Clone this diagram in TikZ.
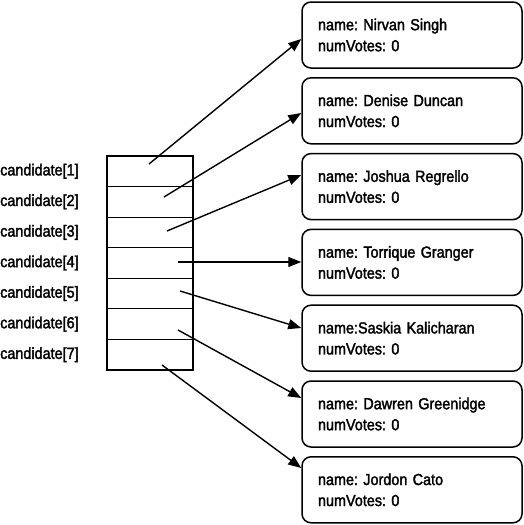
\documentclass[tikz,border=0pt]{standalone}
\usepackage{fontspec}
\setmainfont{Liberation Sans}[FakeStretch=0.9,FakeBold=2]
\usetikzlibrary{arrows.meta,calc}
\tikzset{
  rec/.style={draw, rounded corners=9pt, line width=1.5pt, minimum width=220pt, minimum height=66pt,
    text width=188pt, inner xsep=16pt, align=left, font=\fontsize{16}{21}\selectfont},
  cell/.style={draw, line width=1.2pt, minimum width=86pt, minimum height=30.57pt, inner sep=0pt},
  lab/.style={anchor=west, inner sep=0pt, font=\fontsize{16}{17}\selectfont},
  ptr/.style={line width=1.4pt, -{Triangle[length=13pt,width=10pt]}}
}
\begin{document}
\frenchspacing
\begin{tikzpicture}[x=1pt,y=-1pt]
\useasboundingbox (0,0) rectangle (523,525);
% array cells
\foreach \i in {1,...,7} {
  \node[cell] (c\i) at (150, {156+30.57*(\i-0.5)}) {};
  \node[lab] (l\i) at (0, {156+30.57*(\i-0.5)}) {candidate[\i]};
}
% records
\node[rec] (b1) at (412,35.0)  {name: Nirvan Singh\\numVotes: 0};
\node[rec] (b2) at (412,110.8) {name: Denise Duncan\\numVotes: 0};
\node[rec] (b3) at (412,186.6) {name: Joshua Regrello\\numVotes: 0};
\node[rec] (b4) at (412,262.4) {name: Torrique Granger\\numVotes: 0};
\node[rec] (b5) at (412,338.2) {name:Saskia Kalicharan\\numVotes: 0};
\node[rec] (b6) at (412,414.0) {name: Dawren Greenidge\\numVotes: 0};
\node[rec] (b7) at (412,489.8) {name: Jordon Cato\\numVotes: 0};
% pointer origins
\coordinate (s1) at (149,164);
\coordinate (s2) at (164,197);
\coordinate (s3) at (167,231);
\coordinate (s4) at (178,262);
\coordinate (s5) at (180,291);
\coordinate (s6) at (178,330);
\coordinate (s7) at (162,365);
\draw[ptr] (s1) -- ($(b1.west)+(0,4)$);
\draw[ptr] (s2) -- ($(b2.west)+(0,2.2)$);
\draw[ptr] (s3) -- ($(b3.west)+(0,-11.6)$);
\draw[ptr] (s4) -- ($(b4.west)+(0,-0.4)$);
\draw[ptr] (s5) -- ($(b5.west)+(0,-10.2)$);
\draw[ptr] (s6) -- ($(b6.west)+(0,-16)$);
\draw[ptr] (s7) -- ($(b7.west)+(0,-21.8)$);
\end{tikzpicture}
\end{document}
